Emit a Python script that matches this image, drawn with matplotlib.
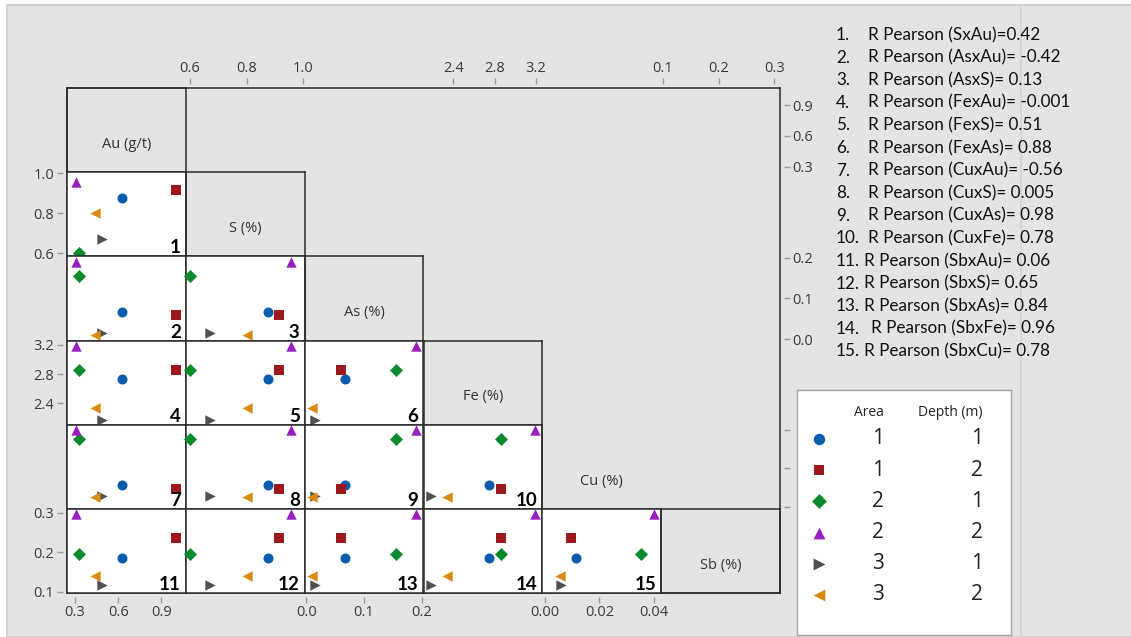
import numpy as np
import matplotlib.pyplot as plt
from matplotlib.patches import Rectangle
from matplotlib.lines import Line2D

plt.rcParams['font.family'] = ['Open Sans', 'DejaVu Sans']

# Variables del diagrama matricial
labels = ['Au (g/t)', 'S (%)', 'As (%)', 'Fe (%)', 'Cu (%)', 'Sb (%)']

# Grupos (Area, Depth)
area = [1, 1, 2, 2, 3, 3]
depth = [1, 2, 1, 2, 1, 2]

# Valores por grupo
au = [0.625, 1.00, 0.33, 0.31, 0.49, 0.44]
s = [0.875, 0.915, 0.60, 0.955, 0.67, 0.80]
as_pct = [0.067, 0.060, 0.155, 0.190, 0.015, 0.010]
fe = [2.74, 2.86, 2.86, 3.19, 2.18, 2.34]
cu = [0.0115, 0.0095, 0.035, 0.040, 0.006, 0.0055]
sb = [0.186, 0.237, 0.195, 0.297, 0.118, 0.140]
data = [au, s, as_pct, fe, cu, sb]

# Rangos y marcas de cada eje
ranges = [(0.245, 1.07), (0.585, 1.005), (-0.003, 0.203),
          (2.11, 3.26), (-0.0008, 0.0425), (0.097, 0.31)]
ticks = [[0.3, 0.6, 0.9], [0.6, 0.8, 1.0], [0.0, 0.1, 0.2],
         [2.4, 2.8, 3.2], [0.00, 0.02, 0.04], [0.1, 0.2, 0.3]]
tick_fmt = ['%.1f', '%.1f', '%.1f', '%.1f', '%.2f', '%.1f']

pearson = ['R Pearson (SxAu)=0.42', 'R Pearson (AsxAu)= -0.42', 'R Pearson (AsxS)= 0.13',
           'R Pearson (FexAu)= -0.001', 'R Pearson (FexS)= 0.51', 'R Pearson (FexAs)= 0.88',
           'R Pearson (CuxAu)= -0.56', 'R Pearson (CuxS)= 0.005', 'R Pearson (CuxAs)= 0.98',
           'R Pearson (CuxFe)= 0.78', 'R Pearson (SbxAu)= 0.06', 'R Pearson (SbxS)= 0.65',
           'R Pearson (SbxAs)= 0.84', 'R Pearson (SbxFe)= 0.96', 'R Pearson (SbxCu)= 0.78']

markers = ['o', 's', 'D', '^', '>', '<']
colors = ['#0b5cad', '#9c1a1c', '#0a8a2a', '#9a1fc0', '#505050', '#d98a12']
sizes = [52, 46, 44, 56, 56, 56]

W, H = 1131, 637
fig = plt.figure(figsize=(W / 100, H / 100), dpi=100, facecolor='white')
fig.add_artist(Rectangle((7 / W, 0), 1, 1 - 5 / H, transform=fig.transFigure,
                         facecolor='#e4e4e4', edgecolor='#d2d2d2', lw=1.5, zorder=-10))
fig.add_artist(Line2D([1021 / W, 1021 / W], [0, 1 - 5 / H], transform=fig.transFigure,
                      color='#d4d4d4', lw=1.2, zorder=-9))

# Rejilla en pixeles
gx0, gx1, gy0, gy1 = 67, 780, 88, 593
cw = (gx1 - gx0) / 6
ch = (gy1 - gy0) / 6


def rect(left, top, w, h):
    return [left / W, 1 - (top + h) / H, w / W, h / H]


frame = '#2b2b2b'

# Marcas de los ejes (filas y columnas)
for k in range(6):
    ax = fig.add_axes(rect(gx0, gy0 + k * ch, gx1 - gx0, ch), facecolor='none')
    ax.set_ylim(ranges[k])
    ax.set_yticks(ticks[k])
    ax.set_yticklabels([tick_fmt[k] % t for t in ticks[k]])
    ax.set_xticks([])
    for sp in ax.spines.values():
        sp.set_visible(False)
    side = 'left' if k % 2 == 1 else 'right'
    ax.spines[side].set_position(('outward', 3))
    ax.tick_params(axis='y', left=(side == 'left'), labelleft=(side == 'left'),
                   right=(side == 'right'), labelright=(side == 'right' and k != 4),
                   length=4, width=1, color='#9a9a9a', labelsize=10.5,
                   labelcolor='#3a3a3a', pad=2)

    ax = fig.add_axes(rect(gx0 + k * cw, gy0, cw, gy1 - gy0), facecolor='none')
    ax.set_xlim(ranges[k])
    ax.set_xticks(ticks[k])
    ax.set_xticklabels([tick_fmt[k] % t for t in ticks[k]])
    ax.set_yticks([])
    for sp in ax.spines.values():
        sp.set_visible(False)
    side = 'top' if k % 2 == 1 else 'bottom'
    ax.spines[side].set_position(('outward', 3))
    ax.tick_params(axis='x', top=(side == 'top'), labeltop=(side == 'top'),
                   bottom=(side == 'bottom'), labelbottom=(side == 'bottom'),
                   length=4, width=1, color='#9a9a9a', labelsize=10.5,
                   labelcolor='#3a3a3a', pad=2)

# Marco exterior
ax = fig.add_axes(rect(gx0, gy0, gx1 - gx0, gy1 - gy0), facecolor='none')
ax.set_xticks([])
ax.set_yticks([])
for sp in ax.spines.values():
    sp.set_color(frame)
    sp.set_linewidth(1.1)

# Celdas
n = 0
for i in range(6):
    for j in range(i + 1):
        ax = fig.add_axes(rect(gx0 + j * cw, gy0 + i * ch, cw, ch))
        ax.set_xlim(ranges[j])
        ax.set_ylim(ranges[i])
        ax.set_xticks([])
        ax.set_yticks([])
        for sp in ax.spines.values():
            sp.set_color(frame)
            sp.set_linewidth(1.1)
        if i == j:
            ax.set_facecolor('none')
            ax.text(0.5, 0.33, labels[i], transform=ax.transAxes, ha='center',
                    va='center', fontsize=10.5, color='#333333')
            if i == 4:
                ax.spines['top'].set_visible(False)
                ax.spines['right'].set_visible(False)
        else:
            ax.set_facecolor('white')
            for g in range(6):
                ax.scatter(data[j][g], data[i][g], marker=markers[g], s=sizes[g],
                           color=colors[g], linewidths=0, clip_on=False, zorder=3)
            n += 1
            ax.text(1 - 5 / cw, 3 / ch, str(n), transform=ax.transAxes, ha='right',
                    va='baseline', fontsize=13.5, fontweight='bold', color='black',
                    family=['Lato', 'DejaVu Sans'], zorder=4)

# Coeficientes de Pearson
for k, txt in enumerate(pearson):
    y = 35 + k * 22.6
    fig.text(836 / W, 1 - y / H, '%d.' % (k + 1), va='center', fontsize=12.3,
             color='#111111', family=['Lato', 'DejaVu Sans'])
    x = 868 if k < 10 else 864
    if k == 13:
        x = 871
    fig.text(x / W, 1 - y / H, txt, va='center', fontsize=12.3,
             color='#111111', family=['Lato', 'DejaVu Sans'])

# Leyenda
lg = fig.add_axes(rect(797, 390, 214, 245), facecolor='white')
lg.set_xlim(0, 214)
lg.set_ylim(245, 0)
lg.set_xticks([])
lg.set_yticks([])
for sp in lg.spines.values():
    sp.set_color('#a8a8a8')
    sp.set_linewidth(1)
lg.text(87, 22, 'Area', ha='right', va='center', fontsize=10, color='#222222')
lg.text(186, 22, 'Depth (m)', ha='right', va='center', fontsize=10, color='#222222')
for g in range(6):
    y = 49 + g * 31.2
    lg.scatter(22, y, marker=markers[g], s=sizes[g] * 1.3, color=colors[g], linewidths=0)
    lg.text(87, y, str(area[g]), ha='right', va='center', fontsize=15, color='#222222')
    lg.text(186, y, str(depth[g]), ha='right', va='center', fontsize=15, color='#222222')

fig.savefig('out.png', dpi=100, facecolor=fig.get_facecolor())
